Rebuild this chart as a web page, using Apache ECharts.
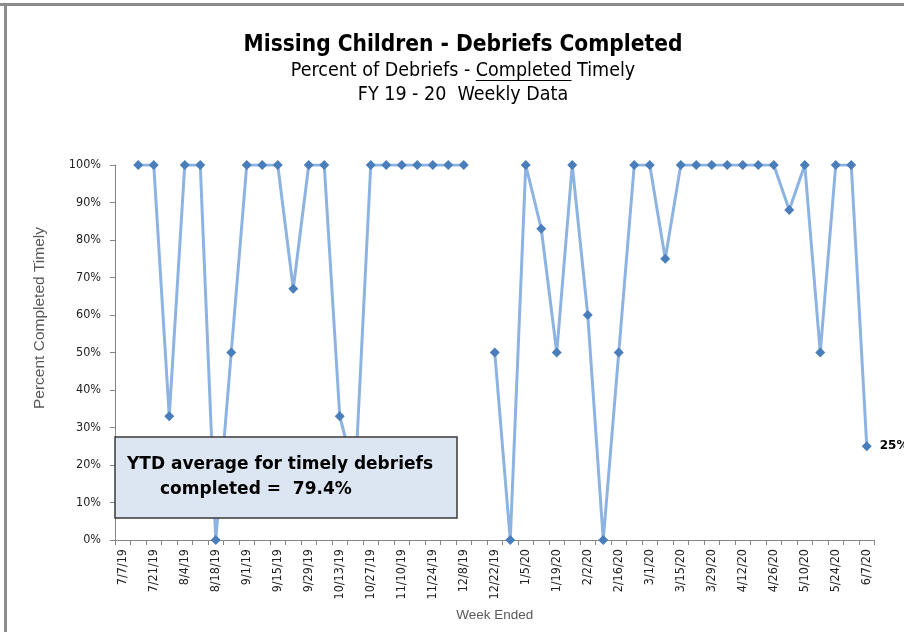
<!DOCTYPE html>
<html>
<head>
<meta charset="utf-8">
<script src="https://cdn.jsdelivr.net/npm/echarts@6/dist/echarts.min.js"></script>
<style>
  html, body { margin: 0; padding: 0; background: #fff; }
  #chart { width: 904px; height: 632px; }
</style>
</head>
<body>
<div id="chart"></div>
<script>
const weeks = [
  '7/7/19', '7/14/19', '7/21/19', '7/28/19', '8/4/19', '8/11/19', '8/18/19', '8/25/19',
  '9/1/19', '9/8/19', '9/15/19', '9/22/19', '9/29/19', '10/6/19', '10/13/19', '10/20/19',
  '10/27/19', '11/3/19', '11/10/19', '11/17/19', '11/24/19', '12/1/19', '12/8/19', '12/15/19',
  '12/22/19', '12/29/19', '1/5/20', '1/12/20', '1/19/20', '1/26/20', '2/2/20', '2/9/20',
  '2/16/20', '2/23/20', '3/1/20', '3/8/20', '3/15/20', '3/22/20', '3/29/20', '4/5/20',
  '4/12/20', '4/19/20', '4/26/20', '5/3/20', '5/10/20', '5/17/20', '5/24/20', '5/31/20', '6/7/20'
]

// percent completed timely, null = no debriefs that week
const pctTimely = [
  null, 100, 100, 33, 100, 100, 0, 50,
  100, 100, 100, 67, 100, 100, 33, 17,
  100, 100, 100, 100, 100, 100, 100, null,
  50, 0, 100, 83, 50, 100, 60, 0,
  50, 100, 100, 75, 100, 100, 100, 100,
  100, 100, 100, 88, 100, 50, 100, 100, 25
]

const yTicks = [0, 10, 20, 30, 40, 50, 60, 70, 80, 90, 100]

const ytdAverage = '79.4%'

const NARROW = '"Liberation Sans Narrow", "DejaVu Sans Condensed", "Arial Narrow", sans-serif'
const AXIS_GRAY = '#868686'
const TITLE_X = 463

// measure subtitle pieces so "Completed" can be underlined
const subFont = '19.5px ' + NARROW
const subPre = 'Percent of Debriefs - '
const subWord = 'Completed'
const subText = subPre + subWord + ' Timely'
const ctx = document.createElement('canvas').getContext('2d')
ctx.font = subFont
const subW = ctx.measureText(subText).width
const ulX = TITLE_X - subW / 2 + ctx.measureText(subPre).width
const ulW = ctx.measureText(subWord).width

const chart = echarts.init(document.getElementById('chart'))

const lastIdx = pctTimely.length - 1

chart.setOption({
  animation: false,
  grid: { left: 115, right: 29.5, top: 165, bottom: 92 },
  xAxis: {
    type: 'category',
    data: weeks,
    boundaryGap: true,
    name: 'Week Ended',
    nameLocation: 'middle',
    nameGap: 68,
    nameTextStyle: { color: '#595959', fontSize: 13.5, fontFamily: 'Liberation Sans' },
    axisLine: { lineStyle: { color: AXIS_GRAY, width: 1 } },
    axisTick: { show: true, interval: 0, length: 5, lineStyle: { color: AXIS_GRAY } },
    axisLabel: {
      interval: 1,
      rotate: 90,
      margin: 9,
      color: '#222',
      fontSize: 12.5,
      fontFamily: NARROW
    },
    splitLine: { show: false }
  },
  yAxis: {
    type: 'value',
    min: yTicks[0],
    max: yTicks[yTicks.length - 1],
    interval: 10,
    axisLine: { show: true, lineStyle: { color: AXIS_GRAY, width: 1 } },
    axisTick: { show: true, length: 5, lineStyle: { color: AXIS_GRAY } },
    axisLabel: {
      formatter: '{value}%',
      margin: 14,
      color: '#222',
      fontSize: 12.5,
      fontFamily: NARROW
    },
    splitLine: { show: false }
  },
  series: [{
    type: 'line',
    data: pctTimely.map((v, i) => i === lastIdx
      ? { value: v, label: { show: true } }
      : v),
    connectNulls: false,
    symbol: 'diamond',
    symbolSize: 10,
    showAllSymbol: true,
    lineStyle: { color: '#8DB3E2', width: 3 },
    itemStyle: { color: '#4A7EBB' },
    label: {
      show: false,
      position: 'right',
      distance: 8,
      formatter: p => p.value + '%',
      color: '#000',
      fontWeight: 'bold',
      fontSize: 12,
      fontFamily: 'DejaVu Sans'
    },
    z: 2
  }],
  graphic: [
    // frame (top and left edges of the original chart border)
    { type: 'rect', shape: { x: 0, y: 3, width: 904, height: 3 }, style: { fill: '#8c8c8c' }, silent: true },
    { type: 'rect', shape: { x: 4, y: 3, width: 3, height: 629 }, style: { fill: '#8c8c8c' }, silent: true },
    // titles
    {
      type: 'text', x: TITLE_X, y: 45,
      style: { text: 'Missing Children - Debriefs Completed', fill: '#000', font: 'bold 22.5px ' + NARROW, textAlign: 'center', textVerticalAlign: 'middle' }
    },
    {
      type: 'text', x: TITLE_X, y: 71,
      style: { text: subText, fill: '#000', font: subFont, textAlign: 'center', textVerticalAlign: 'middle' }
    },
    { type: 'rect', shape: { x: ulX, y: 80, width: ulW, height: 1 }, style: { fill: '#000' }, silent: true },
    {
      type: 'text', x: TITLE_X, y: 95,
      style: { text: 'FY 19 - 20  Weekly Data', fill: '#000', font: '19.5px ' + NARROW, textAlign: 'center', textVerticalAlign: 'middle' }
    },
    // y axis title
    {
      type: 'text', x: 40, y: 318, rotation: Math.PI / 2,
      style: { text: 'Percent Completed Timely', fill: '#595959', font: '15.5px "Liberation Sans"', textAlign: 'center', textVerticalAlign: 'middle' }
    },
    // YTD note box, drawn over the line
    {
      type: 'rect', z: 100,
      shape: { x: 115, y: 437, width: 342, height: 81 },
      style: { fill: '#DCE6F2', stroke: '#3a3a3a', lineWidth: 1.5 }
    },
    {
      type: 'text', z: 101, x: 127, y: 465,
      style: { text: 'YTD average for timely debriefs', fill: '#000', font: 'bold 17px "DejaVu Sans"', textVerticalAlign: 'middle' }
    },
    {
      type: 'text', z: 101, x: 160, y: 490,
      style: { text: 'completed =  ' + ytdAverage, fill: '#000', font: 'bold 17px "DejaVu Sans"', textVerticalAlign: 'middle' }
    }
  ]
})
</script>
</body>
</html>
